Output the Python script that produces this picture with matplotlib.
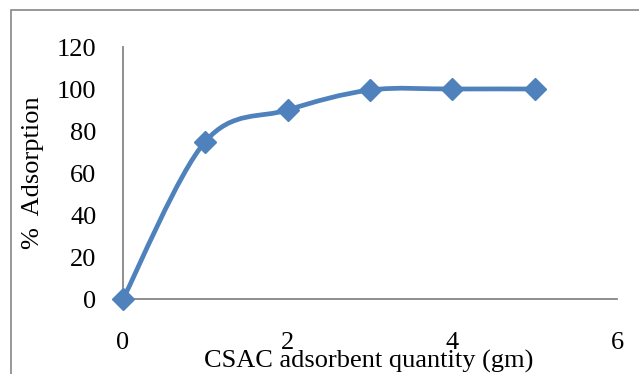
import numpy as np
import matplotlib.pyplot as plt
from matplotlib.path import Path
from matplotlib.patches import PathPatch, Rectangle

plt.rcParams['font.family'] = ['Liberation Serif', 'DejaVu Serif']

# adsorbent dose vs removal
dose = [0, 1, 2, 3, 4, 5]
adsorption = [0, 75, 90, 99.5, 100, 100]

line_color = '#4F81BD'
axis_color = '#868686'

fig = plt.figure(figsize=(6.39, 3.74), dpi=100)
ax = fig.add_axes([0.1925, 0.2005, 0.773, 0.6738])

# smoothed line through the points (Catmull-Rom style Bezier segments)
pts = np.column_stack([dose, adsorption]).astype(float)
verts = [pts[0]]
codes = [Path.MOVETO]
n = len(pts)
for i in range(n - 1):
    p0 = pts[max(i - 1, 0)]
    p1 = pts[i]
    p2 = pts[i + 1]
    p3 = pts[min(i + 2, n - 1)]
    c1 = p1 + (p2 - p0) / 6.0
    c2 = p2 - (p3 - p1) / 6.0
    verts += [c1, c2, p2]
    codes += [Path.CURVE4] * 3
ax.add_patch(PathPatch(Path(verts, codes), facecolor='none',
                       edgecolor=line_color, lw=3.4, capstyle='round',
                       joinstyle='round', zorder=3, clip_on=False))
ax.plot(dose, adsorption, linestyle='none', marker='D', ms=11,
        color=line_color, zorder=4, clip_on=False)

ax.set_xlim(0, 6)
ax.set_ylim(0, 120)
ax.set_xticks(range(0, 7, 2))
ax.set_yticks(range(0, 121, 20))
ax.tick_params(length=0, labelsize=19, colors='black', pad=19)
ax.tick_params(axis='x', pad=24)
for s in ['top', 'right']:
    ax.spines[s].set_visible(False)
for s in ['left', 'bottom']:
    ax.spines[s].set_color(axis_color)
    ax.spines[s].set_linewidth(1.3)

fig.text(0.577, 0.002, 'CSAC adsorbent quantity (gm)', ha='center',
         va='bottom', fontsize=19)
fig.text(0.052, 0.537, '%  Adsorption', ha='center', va='center',
         rotation=90, fontsize=19)

# chart area border
fig.patches.append(Rectangle((11 / 639, -0.05), 1.2, 1 - 10 / 374 + 0.05,
                             transform=fig.transFigure, fill=False,
                             edgecolor=axis_color, lw=1.2))

fig.savefig('out.png', dpi=100)
